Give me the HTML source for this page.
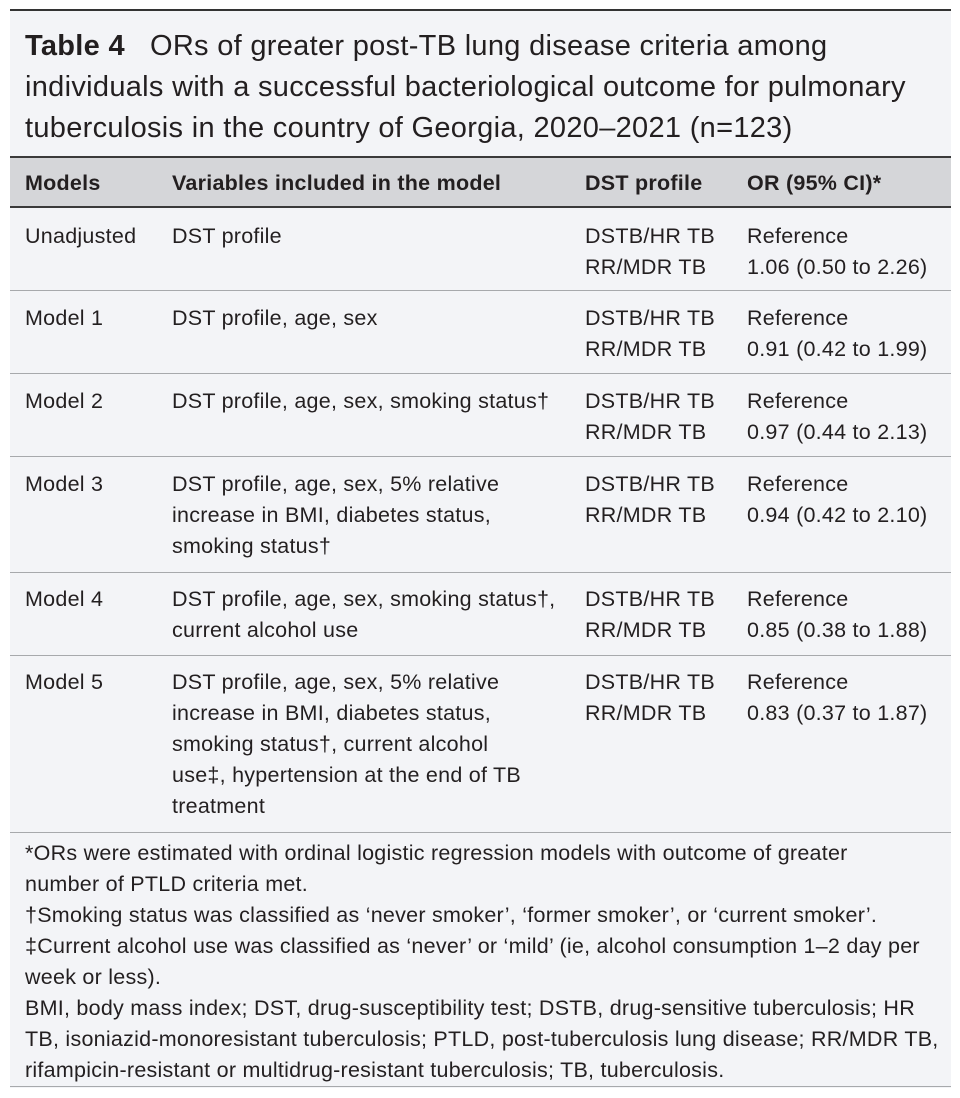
<!DOCTYPE html>
<html><head><meta charset="utf-8"><style>
html,body{margin:0;padding:0;background:#fff;}
body{width:960px;height:1098px;position:relative;overflow:hidden;font-family:"Liberation Sans",sans-serif;color:#231f20;}
#box{position:absolute;left:10px;top:9px;width:941px;height:1077px;background:#f3f4f7;border-top:2px solid #333;}
.t{position:absolute;white-space:nowrap;font-size:21.5px;letter-spacing:0.25px;line-height:31px;}
.ti{position:absolute;left:25px;white-space:nowrap;font-size:29px;letter-spacing:0.3px;line-height:41px;}
.hl{position:absolute;left:10px;width:941px;height:1px;background:#a7a9ac;}
.dl{position:absolute;left:10px;width:941px;height:2px;background:#3a3a3a;}
b{font-weight:bold;}
</style></head><body>
<div id="box"></div>
<div class="ti" style="top:26px"><b>Table 4</b>&nbsp;&nbsp; ORs of greater post-TB lung disease criteria among</div>
<div class="ti" style="top:67px">individuals with a successful bacteriological outcome for pulmonary</div>
<div class="ti" style="top:108px">tuberculosis in the country of Georgia, 2020–2021 (n=123)</div>
<div style="position:absolute;left:10px;top:157px;width:941px;height:50px;background:#d5d6d9;"></div>
<div class="dl" style="top:156px"></div>
<div class="dl" style="top:206px"></div>
<div class="t" style="left:25px;top:168px"><b>Models</b></div>
<div class="t" style="left:172px;top:168px"><b>Variables included in the model</b></div>
<div class="t" style="left:585px;top:168px"><b>DST profile</b></div>
<div class="t" style="left:747px;top:168px"><b>OR (95% CI)*</b></div>

<div class="t" style="left:25px;top:221px">Unadjusted</div>
<div class="t" style="left:172px;top:221px">DST profile</div>
<div class="t" style="left:585px;top:221px">DSTB/HR TB<br>RR/MDR TB</div>
<div class="t" style="left:747px;top:221px">Reference<br>1.06 (0.50 to 2.26)</div>
<div class="hl" style="top:290px"></div>

<div class="t" style="left:25px;top:303px">Model 1</div>
<div class="t" style="left:172px;top:303px">DST profile, age, sex</div>
<div class="t" style="left:585px;top:303px">DSTB/HR TB<br>RR/MDR TB</div>
<div class="t" style="left:747px;top:303px">Reference<br>0.91 (0.42 to 1.99)</div>
<div class="hl" style="top:373px"></div>

<div class="t" style="left:25px;top:386px">Model 2</div>
<div class="t" style="left:172px;top:386px">DST profile, age, sex, smoking status†</div>
<div class="t" style="left:585px;top:386px">DSTB/HR TB<br>RR/MDR TB</div>
<div class="t" style="left:747px;top:386px">Reference<br>0.97 (0.44 to 2.13)</div>
<div class="hl" style="top:456px"></div>

<div class="t" style="left:25px;top:469px">Model 3</div>
<div class="t" style="left:172px;top:469px">DST profile, age, sex, 5% relative<br>increase in BMI, diabetes status,<br>smoking status†</div>
<div class="t" style="left:585px;top:469px">DSTB/HR TB<br>RR/MDR TB</div>
<div class="t" style="left:747px;top:469px">Reference<br>0.94 (0.42 to 2.10)</div>
<div class="hl" style="top:572px"></div>

<div class="t" style="left:25px;top:584px">Model 4</div>
<div class="t" style="left:172px;top:584px">DST profile, age, sex, smoking status†,<br>current alcohol use</div>
<div class="t" style="left:585px;top:584px">DSTB/HR TB<br>RR/MDR TB</div>
<div class="t" style="left:747px;top:584px">Reference<br>0.85 (0.38 to 1.88)</div>
<div class="hl" style="top:655px"></div>

<div class="t" style="left:25px;top:667px">Model 5</div>
<div class="t" style="left:172px;top:667px">DST profile, age, sex, 5% relative<br>increase in BMI, diabetes status,<br>smoking status†, current alcohol<br>use‡, hypertension at the end of TB<br>treatment</div>
<div class="t" style="left:585px;top:667px">DSTB/HR TB<br>RR/MDR TB</div>
<div class="t" style="left:747px;top:667px">Reference<br>0.83 (0.37 to 1.87)</div>
<div class="hl" style="top:832px"></div>

<div class="t" style="left:25px;top:838px">*ORs were estimated with ordinal logistic regression models with outcome of greater<br>number of PTLD criteria met.<br>†Smoking status was classified as ‘never smoker’, ‘former smoker’, or ‘current smoker’.<br>‡Current alcohol use was classified as ‘never’ or ‘mild’ (ie, alcohol consumption 1–2 day per<br>week or less).<br>BMI, body mass index; DST, drug-susceptibility test; DSTB, drug-sensitive tuberculosis; HR<br>TB, isoniazid-monoresistant tuberculosis; PTLD, post-tuberculosis lung disease; RR/MDR TB,<br>rifampicin-resistant or multidrug-resistant tuberculosis; TB, tuberculosis.</div>
<div class="hl" style="top:1086px"></div>
</body></html>
